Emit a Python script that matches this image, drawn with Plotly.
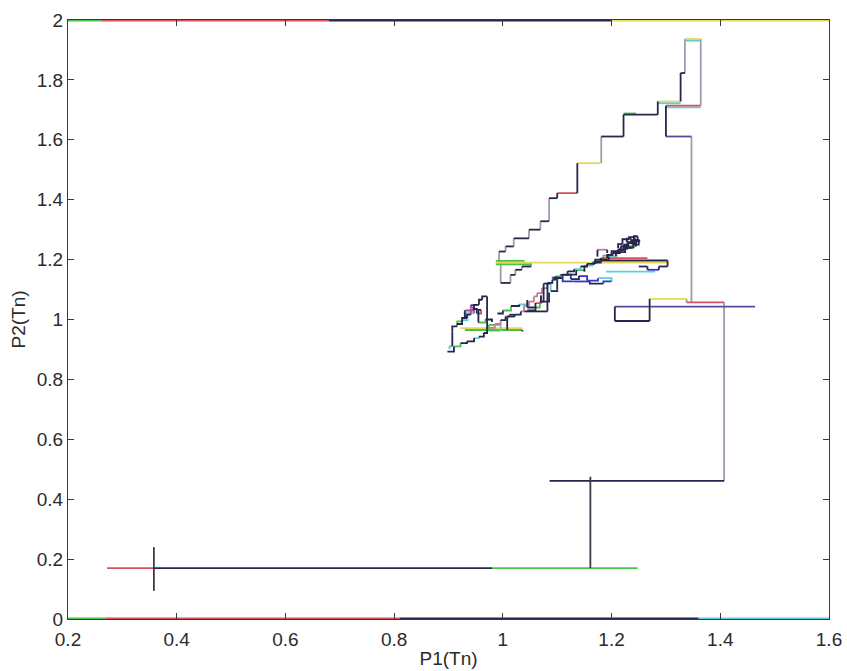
import plotly.graph_objects as go

# ---- axes ----
x_tick_vals = [0.2, 0.4, 0.6, 0.8, 1.0, 1.2, 1.4, 1.6]
x_tick_text = ["0.2", "0.4", "0.6", "0.8", "1", "1.2", "1.4", "1.6"]
y_tick_vals = [0, 0.2, 0.4, 0.6, 0.8, 1.0, 1.2, 1.4, 1.6, 1.8, 2.0]
y_tick_text = ["0", "0.2", "0.4", "0.6", "0.8", "1", "1.2", "1.4", "1.6", "1.8", "2"]

# ---- trajectories of (P1(Tn), P2(Tn)); one colour code per segment ----
top_edge_x = [0.2, 0.26, 0.68, 1.2, 1.6]
top_edge_y = [2, 2, 2, 2, 2]
top_edge_c = "grky"

bottom_edge_x = [0.2, 0.27, 0.81, 1.36, 1.6]
bottom_edge_y = [0, 0, 0, 0, 0]
bottom_edge_c = "grkc"

low_x = [0.272, 0.358, 0.98, 1.248]
low_y = [0.170, 0.170, 0.170, 0.170]
low_c = "rkg"

mark_x = [0.358, 0.358]
mark_y = [0.094, 0.240]
mark_c = "n"

jump_x = [1.161, 1.161]
jump_y = [0.170, 0.475]
jump_c = "n"

return_x = [1.086, 1.407, 1.407, 1.338, 1.338, 1.270, 1.270, 1.206, 1.206, 1.464]
return_y = [0.461, 0.461, 1.057, 1.057, 1.069, 1.069, 0.995, 0.995, 1.043, 1.043]
return_c = "karaykkkp"

climb_x = [1.347, 1.347, 1.300, 1.300, 1.364, 1.364, 1.335, 1.335, 1.327, 1.327,
           1.285, 1.285, 1.222, 1.222, 1.181, 1.181, 1.137, 1.137, 1.100, 1.100,
           1.085, 1.085, 1.069, 1.069, 1.048, 1.048, 1.020, 1.020, 1.005, 1.005,
           0.993, 0.993]
climb_y = [1.057, 1.611, 1.611, 1.714, 1.714, 1.937, 1.937, 1.823, 1.823, 1.728,
           1.728, 1.684, 1.684, 1.611, 1.611, 1.522, 1.522, 1.422, 1.422, 1.405,
           1.405, 1.328, 1.328, 1.300, 1.300, 1.271, 1.271, 1.244, 1.244, 1.227,
           1.227, 1.188]
climb_c = "apkrayakkykkkkaykrkkakakakakaka"

crest_x = [1.335, 1.364]
crest_y = [1.931, 1.931]
crest_c = "c"

ledge_x = [1.300, 1.364]
ledge_y = [1.708, 1.708]
ledge_c = "c"

step_x = [1.285, 1.327]
step_y = [1.722, 1.722]
step_c = "c"

green_step_x = [1.222, 1.245]
green_step_y = [1.688, 1.688]
green_step_c = "g"

band_x = [0.987, 1.303]
band_y = [1.190, 1.190]
band_c = "y"

band_low_x = [0.987, 1.052]
band_low_y = [1.184, 1.184]
band_low_c = "g"

band_top_x = [0.987, 1.040]
band_top_y = [1.196, 1.196]
band_top_c = "g"

under_x = [0.996, 0.996, 1.014, 1.014, 1.023, 1.023, 1.035, 1.035, 1.052, 1.052]
under_y = [1.188, 1.122, 1.122, 1.149, 1.149, 1.166, 1.166, 1.177, 1.177, 1.188]
under_c = "akakakaka"

loop_x = [0.898, 0.910, 0.922, 0.934, 0.947, 0.956, 0.965, 0.971, 0.971, 0.962,
          0.956, 0.947, 0.941, 0.934, 0.925, 0.916, 0.907, 0.907, 0.902]
loop_y = [0.893, 0.910, 0.921, 0.927, 0.938, 0.943, 0.955, 0.966, 1.077, 1.066,
          1.049, 1.033, 1.016, 1.005, 0.994, 0.977, 0.960, 0.910, 0.901]
loop_c = "kgkkckkkkkkmkkgkkc"

floor_x = [0.922, 1.036]
floor_y = [0.971, 0.971]
floor_c = "y"

floor2_x = [0.930, 1.036, 1.036]
floor2_y = [0.965, 0.965, 0.960]
floor2_c = "gk"

knot_x = [0.928, 0.947, 0.947, 0.941, 0.950]
knot_y = [1.021, 1.021, 1.040, 1.048, 1.052]
knot_c = "cmmb"

tangle_x = [0.915, 0.925, 0.935, 0.930, 0.945, 0.952, 0.960, 0.955, 0.968, 0.980]
tangle_y = [0.985, 0.998, 1.010, 1.030, 1.035, 1.020, 1.032, 0.990, 1.000, 0.992]
tangle_c = "kckmkrkgk"

box_x = [0.974, 0.996, 0.996, 0.974, 0.974]
box_y = [0.982, 0.982, 0.963, 0.963, 0.982]
box_c = "gcgg"

rise_x = [0.975, 0.985, 0.996, 1.005, 1.012, 1.022, 1.033, 1.039, 1.048, 1.057,
          1.063, 1.072, 1.082, 1.082, 1.040]
rise_y = [0.972, 0.985, 0.998, 1.010, 1.016, 1.016, 1.027, 1.046, 1.060, 1.077,
          1.088, 1.105, 1.122, 1.027, 1.027]
rise_c = "qqkqkkqqqqqqkk"

post_x = [1.008, 1.008, 1.022, 1.022]
post_y = [0.966, 1.010, 1.010, 1.016]
post_c = "kkk"

lower_mix_x = [0.990, 1.000, 1.015, 1.030, 1.045, 1.045, 1.060, 1.070, 1.070, 1.085]
lower_mix_y = [1.020, 1.030, 1.045, 1.050, 1.065, 1.040, 1.055, 1.080, 1.060, 1.090]
lower_mix_c = "kgkckkrkk"

upper_x = [1.082, 1.091, 1.097, 1.106, 1.119, 1.131, 1.143, 1.155, 1.168, 1.180,
           1.192, 1.202, 1.211, 1.217, 1.229, 1.238, 1.248, 1.241, 1.251, 1.245,
           1.232, 1.223, 1.235, 1.217, 1.208, 1.198, 1.192]
upper_y = [1.122, 1.133, 1.144, 1.149, 1.161, 1.168, 1.177, 1.186, 1.194, 1.205,
           1.216, 1.222, 1.233, 1.244, 1.255, 1.266, 1.278, 1.261, 1.266, 1.244,
           1.250, 1.239, 1.244, 1.222, 1.211, 1.216, 1.205]
upper_c = "kkgkkckkkrkkkkkkkkkgkkrkck"

dense_x = [1.120, 1.135, 1.150, 1.150, 1.165, 1.180, 1.195, 1.210, 1.225, 1.240,
           1.230, 1.215, 1.200, 1.185, 1.170]
dense_y = [1.150, 1.165, 1.160, 1.180, 1.190, 1.200, 1.210, 1.225, 1.240, 1.255,
           1.235, 1.228, 1.213, 1.200, 1.185]
dense_c = "kgkckkykkkrkgk"

blob_x = [1.205, 1.215, 1.222, 1.230, 1.238, 1.244, 1.236, 1.228, 1.240, 1.250,
          1.243, 1.232, 1.220, 1.212]
blob_y = [1.225, 1.232, 1.245, 1.240, 1.255, 1.262, 1.270, 1.258, 1.250, 1.262,
          1.275, 1.268, 1.252, 1.238]
blob_c = "kkkgkkkkkrkkk"

blue_x = [1.090, 1.110, 1.125, 1.140, 1.155, 1.175, 1.200, 1.185, 1.160, 1.130, 1.110, 1.095]
blue_y = [1.140, 1.150, 1.135, 1.145, 1.130, 1.138, 1.127, 1.120, 1.127, 1.127, 1.138, 1.131]
blue_c = "bbkbbcbkbbk"

east_x = [1.180, 1.303, 1.303, 1.287, 1.287, 1.266, 1.266, 1.250]
east_y = [1.197, 1.197, 1.177, 1.177, 1.166, 1.166, 1.177, 1.177]
east_c = "kkkkbkk"

red_x = [1.192, 1.266]
red_y = [1.205, 1.205]
red_c = "r"

cyan_x = [1.190, 1.280]
cyan_y = [1.160, 1.160]
cyan_c = "c"

rect_x = [1.174, 1.174, 1.192, 1.192]
rect_y = [1.210, 1.233, 1.233, 1.222]
rect_c = "kqk"

mid_x = [1.045, 1.060, 1.068, 1.075, 1.075, 1.088, 1.088, 1.100, 1.100]
mid_y = [1.030, 1.040, 1.060, 1.075, 1.120, 1.120, 1.095, 1.100, 1.140]
mid_c = "kgkkkckk"

palette = {
    "k": "#26264e",
    "n": "#3a3a48",
    "a": "#9d9dae",
    "r": "#d8505e",
    "q": "#c27c96",
    "g": "#4cc24c",
    "y": "#e2da58",
    "c": "#5ccfdc",
    "b": "#3434c8",
    "m": "#a84a9c",
    "p": "#5a4a9a",
}

edges = [
    (top_edge_x, top_edge_y, top_edge_c),
    (bottom_edge_x, bottom_edge_y, bottom_edge_c),
]
paths = [
    (low_x, low_y, low_c), (mark_x, mark_y, mark_c), (jump_x, jump_y, jump_c),
    (return_x, return_y, return_c), (crest_x, crest_y, crest_c),
    (ledge_x, ledge_y, ledge_c), (step_x, step_y, step_c),
    (green_step_x, green_step_y, green_step_c), (climb_x, climb_y, climb_c),
    (band_low_x, band_low_y, band_low_c), (band_top_x, band_top_y, band_top_c),
    (band_x, band_y, band_c),
    (under_x, under_y, under_c), (floor_x, floor_y, floor_c),
    (floor2_x, floor2_y, floor2_c), (loop_x, loop_y, loop_c),
    (knot_x, knot_y, knot_c), (tangle_x, tangle_y, tangle_c),
    (box_x, box_y, box_c), (rise_x, rise_y, rise_c),
    (post_x, post_y, post_c), (lower_mix_x, lower_mix_y, lower_mix_c),
    (blue_x, blue_y, blue_c), (cyan_x, cyan_y, cyan_c),
    (red_x, red_y, red_c), (upper_x, upper_y, upper_c),
    (dense_x, dense_y, dense_c), (blob_x, blob_y, blob_c),
    (east_x, east_y, east_c),
    (rect_x, rect_y, rect_c), (mid_x, mid_y, mid_c),
]


def bucket(path_list):
    """Group every segment by colour so each colour becomes one trace."""
    groups = {}
    for xs, ys, codes in path_list:
        assert len(codes) == len(xs) - 1
        for i, code in enumerate(codes):
            gx, gy = groups.setdefault(code, ([], []))
            gx += [xs[i], xs[i + 1], None]
            gy += [ys[i], ys[i + 1], None]
    return groups


fig = go.Figure()
order = "aygcqrmbpkn"
for groups, width in ((bucket(edges), 3.2), (bucket(paths), 1.8)):
    for code in order:
        if code not in groups:
            continue
        gx, gy = groups[code]
        fig.add_trace(go.Scatter(
            x=gx, y=gy, mode="lines", line_shape="hv", connectgaps=False,
            line=dict(color=palette[code], width=width),
            hoverinfo="skip", showlegend=False,
        ))

font = dict(family="Liberation Sans, Arial, sans-serif", size=19, color="#2b2b2b")
axis_common = dict(
    showgrid=False, zeroline=False, showline=True, linecolor="#3a3a3a",
    linewidth=1.2, mirror="ticks", ticks="inside", ticklen=6, tickwidth=1.2,
    tickcolor="#3a3a3a", tickfont=font, automargin=False,
)
fig.update_xaxes(range=[0.2, 1.6], tickvals=x_tick_vals, ticktext=x_tick_text,
                 ticklabelstandoff=3,
                 title=dict(text="P1(Tn)", font=font, standoff=2), **axis_common)
fig.update_yaxes(range=[0, 2], tickvals=y_tick_vals, ticktext=y_tick_text,
                 title=dict(text="P2(Tn)", font=font, standoff=6), **axis_common)
fig.update_layout(
    width=847, height=671,
    margin=dict(l=68, r=18, t=20, b=52),
    paper_bgcolor="white", plot_bgcolor="white",
)
fig.write_html("out.html")
